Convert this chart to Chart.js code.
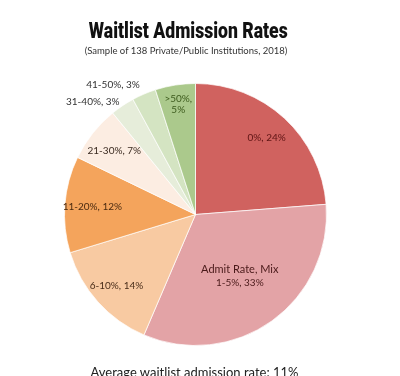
<!DOCTYPE html>
<html>
<head>
<meta charset="utf-8">
<script src="https://cdn.jsdelivr.net/npm/chart.js@4.4.0/dist/chart.umd.min.js"></script>
<style>
  html,body{margin:0;padding:0;background:#fff;}
  #wrap{position:relative;width:400px;height:376px;overflow:hidden;}
  #pie{position:absolute;left:0;top:0;}
  .ttl{position:absolute;left:0;text-align:center;color:#111;}
  #t1{top:18px;width:376px;font:900 22px Roboto,"DejaVu Sans",sans-serif;}
  #t1 span{display:inline-block;transform:scaleX(0.8);}
  #t2{top:45px;width:372px;font:9.5px Lato,"Noto Sans",sans-serif;color:#333;}
  #t3{top:364px;width:389px;font:13px Lato,"Noto Sans",sans-serif;color:#222;}
</style>
</head>
<body>
<div id="wrap">
  <canvas id="pie" width="400" height="376"></canvas>
  <div class="ttl" id="t1"><span>Waitlist Admission Rates</span></div>
  <div class="ttl" id="t2">(Sample of 138 Private/Public Institutions, 2018)</div>
  <div class="ttl" id="t3">Average waitlist admission rate: 11%</div>
</div>
<script>
// données
const categories=['0%','1-5%','6-10%','11-20%','21-30%','31-40%','41-50%','>50%'];
const shares=[24,33,14,12,7,3,3,5];
const sliceColors=['#d0625f','#e3a3a6','#f8caa2','#f4a45c','#fcede2','#e6edda','#d4e4c2','#abc98c'];
const textColors=['#5e1414','#4a1a1a','#4a2e1a','#4a2a10','#3a2a20','#333','#333','#3c5a1c'];

// placement des étiquettes : fraction du rayon + alignement (style, pas données)
const labelPlace=[
  {r:0.80,align:'center'},
  {r:0.58,align:'center'},
  {r:0.81,align:'center'},
  {r:0.79,align:'center'},
  {r:0.79,align:'center'},
  {r:1.04,align:'right'},
  {r:1.08,align:'right'},
  {r:0.85,align:'center'}
];

function labelLines(i){
  if(i===1) return ['Admit Rate, Mix', categories[i]+', '+shares[i]+'%'];
  if(i===7) return [categories[i]+',', shares[i]+'%'];
  return [categories[i]+', '+shares[i]+'%'];
}

const sliceLabels={
  id:'sliceLabels',
  afterDatasetsDraw(chart){
    const ctx=chart.ctx;
    const meta=chart.getDatasetMeta(0);
    meta.data.forEach((arc,i)=>{
      const p=arc.getProps(['x','y','startAngle','endAngle','outerRadius'],true);
      const mid=(p.startAngle+p.endAngle)/2;
      const rr=p.outerRadius*labelPlace[i].r;
      const x=p.x+Math.cos(mid)*rr, y=p.y+Math.sin(mid)*rr;
      const lines=labelLines(i);
      ctx.save();
      ctx.fillStyle=textColors[i];
      ctx.textAlign=labelPlace[i].align;
      ctx.textBaseline='middle';
      lines.forEach((s,k)=>{
        ctx.font=(i===1&&k===0)?'11px Lato, "Noto Sans", sans-serif':'10px Lato, "Noto Sans", sans-serif';
        const lh=(i===1)?14:11;
        ctx.fillText(s,x,y+(k-(lines.length-1)/2)*lh);
      });
      ctx.restore();
    });
  }
};

new Chart(document.getElementById('pie').getContext('2d'),{
  type:'pie',
  data:{labels:categories,datasets:[{data:shares,backgroundColor:sliceColors,borderColor:'rgba(255,255,255,0.7)',borderWidth:1}]},
  options:{responsive:false,animation:false,
    layout:{padding:{left:64,right:73,top:83,bottom:30}},
    plugins:{legend:{display:false},tooltip:{enabled:false}}},
  plugins:[sliceLabels]
});
</script>
</body>
</html>
